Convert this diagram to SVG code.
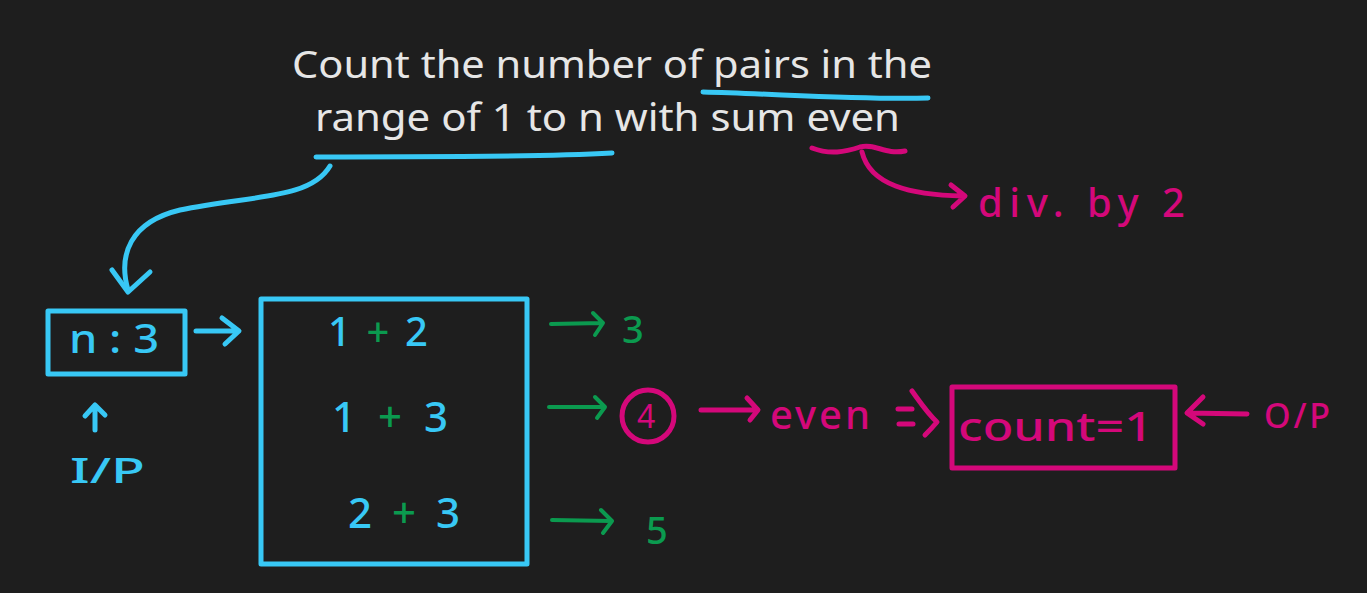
<svg xmlns="http://www.w3.org/2000/svg" width="1367" height="593" viewBox="0 0 1367 593">
<defs>
<style>
.bg{fill:#1e1e1e}
.t{font-family:"Noto Sans","Liberation Sans",sans-serif}
.m{font-weight:500}
.w{fill:#e6e6e6}
.b{fill:#38c8f5}
.p{fill:#d4087a}
.g{fill:#0b9a4f}
.sb{stroke:#38c8f5;fill:none;stroke-width:5;stroke-linecap:round;stroke-linejoin:round}
.sp{stroke:#d4087a;fill:none;stroke-width:5;stroke-linecap:round;stroke-linejoin:round}
.sg{stroke:#0b9a4f;fill:none;stroke-width:4;stroke-linecap:round;stroke-linejoin:round}
</style>
</defs>
<rect class="bg" x="0" y="0" width="1367" height="593"/>

<g id="title">
<text class="t w" x="292" y="78" font-size="38" textLength="640" lengthAdjust="spacingAndGlyphs">Count the number of pairs in the</text>
<text class="t w" x="315" y="131" font-size="38" textLength="585" lengthAdjust="spacingAndGlyphs">range of 1 to n with sum even</text>
</g>

<g id="input-node">
<rect class="sb" x="48" y="311" width="137" height="63"/>
<text class="t m b" x="69" y="353" font-size="40" textLength="90" lengthAdjust="spacingAndGlyphs">n : 3</text>
</g>

<g id="input-label">
<text class="t m b" x="70" y="483" font-size="34" textLength="75" lengthAdjust="spacingAndGlyphs">I/P</text>
</g>

<g id="pairs-node">
<rect class="sb" x="261" y="299" width="266" height="265"/>
<text class="t m b" x="328" y="346" font-size="40" textLength="100" lengthAdjust="spacing">1 <tspan class="g">+</tspan> 2</text>
<text class="t m b" x="332" y="432" font-size="42" textLength="116" lengthAdjust="spacing">1 <tspan class="g">+</tspan> 3</text>
<text class="t m b" x="348" y="528" font-size="42" textLength="112" lengthAdjust="spacing">2 <tspan class="g">+</tspan> 3</text>
</g>

<g id="sum3"><text class="t m g" x="622" y="343" font-size="38">3</text></g>
<g id="sum4">
<circle cx="648" cy="416" r="26" class="sp"/>
<text class="t p" x="637" y="428" font-size="32">4</text>
</g>
<g id="sum5"><text class="t m g" x="646" y="544" font-size="38">5</text></g>

<g id="even-label"><text class="t m p" x="770" y="429" font-size="40" textLength="100" lengthAdjust="spacing">even</text></g>

<g id="count-node">
<rect class="sp" x="952" y="387" width="223" height="81"/>
<text class="t m p" x="958" y="441" font-size="40" textLength="195" lengthAdjust="spacingAndGlyphs">count=1</text>
</g>

<g id="output-label"><text class="t m p" x="1264" y="428" font-size="34" textLength="66" lengthAdjust="spacing">O/P</text></g>

<g id="div-label"><text class="t m p" x="978" y="217" font-size="40" textLength="207" lengthAdjust="spacing">div. by 2</text></g>

<g id="connectors">
<path class="sb" d="M703 92 C780 94 860 100 928 98"/>
<path class="sb" d="M316 157 C420 156 520 158 612 153"/>
<path class="sb" d="M330 166 C310 200 250 195 180 210 C130 222 118 255 128 290"/>
<path class="sb" d="M112 270 L128 292 L150 272"/>
<path class="sb" d="M196 331 L238 331 M222 318 L239 331 L225 344"/>
<path class="sb" d="M95 430 L95 406 M85 416 L95 405 L105 415"/>
<path class="sp" d="M812 148 C830 155 845 152 860 147 C875 143 885 155 905 151"/>
<path class="sp" d="M862 152 C870 185 910 195 963 196 M951 185 L965 196 L953 207"/>
<path class="sg" d="M551 324 L602 323 M593 313 L603 323 L595 335"/>
<path class="sg" d="M549 407 L604 407 M595 397 L605 407 L597 418"/>
<path class="sg" d="M552 520 L611 521 M601 510 L612 521 L603 533"/>
<path class="sp" d="M701 410 L757 410 M747 398 L758 410 L750 420"/>
<path class="sp" d="M898 409 L912 409 M899 424 L913 424"/>
<path class="sp" d="M912 391 C920 402 928 414 937 422 C932 428 928 432 925 435"/>
<path class="sp" d="M1247 414 L1188 413 M1203 397 L1187 413 L1203 424"/>
</g>
</svg>
